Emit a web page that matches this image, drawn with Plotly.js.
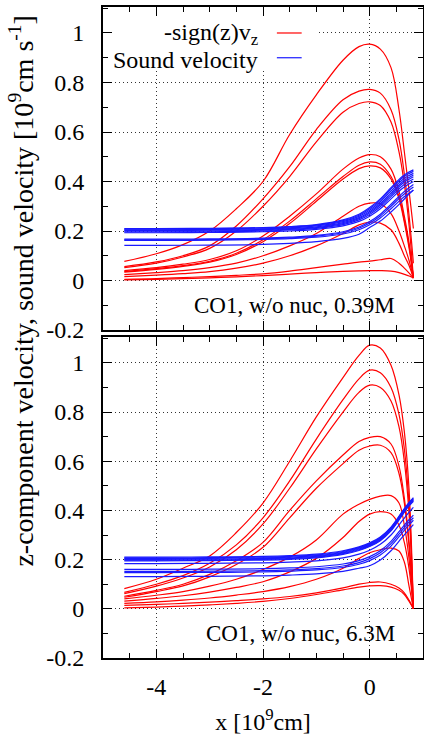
<!DOCTYPE html>
<html>
<head>
<meta charset="utf-8">
<script src="https://cdn.plot.ly/plotly-3.0.1.min.js"></script>
<style>html,body{margin:0;padding:0;background:#fff;}#chart{width:424px;height:735px;}</style>
</head>
<body>
<div id="chart"></div>
<script>
// x grids (10^9 cm)
const xRed = [-4.6, -4, -3.5, -3, -2.5, -2, -1.5, -1, -0.5, -0.2, 0, 0.2, 0.4, 0.55, 0.65, 0.74, 0.82];
const xBlue = [-4.6, -4, -3, -2, -1.5, -1, -0.5, -0.2, 0, 0.2, 0.4, 0.6, 0.72, 0.82];

// Top panel: CO1, w/o nuc, 0.39M  — -sign(z) v_z
const vzTop = [
  [0.077, 0.108, 0.145, 0.20, 0.29, 0.40, 0.59, 0.75, 0.89, 0.945, 0.955, 0.935, 0.86, 0.69, 0.52, 0.36, 0.21],
  [0.056, 0.075, 0.10, 0.14, 0.22, 0.33, 0.46, 0.61, 0.73, 0.765, 0.772, 0.757, 0.69, 0.57, 0.43, 0.26, 0.07],
  [0.052, 0.07, 0.095, 0.13, 0.20, 0.30, 0.42, 0.56, 0.68, 0.715, 0.722, 0.707, 0.64, 0.52, 0.39, 0.22, 0.01],
  [0.040, 0.052, 0.066, 0.085, 0.12, 0.18, 0.26, 0.35, 0.45, 0.495, 0.509, 0.50, 0.45, 0.36, 0.26, 0.15, 0.01],
  [0.036, 0.048, 0.060, 0.078, 0.11, 0.165, 0.24, 0.33, 0.42, 0.466, 0.479, 0.47, 0.42, 0.34, 0.245, 0.14, 0.01],
  [0.034, 0.045, 0.057, 0.074, 0.105, 0.157, 0.23, 0.32, 0.41, 0.452, 0.463, 0.455, 0.41, 0.33, 0.235, 0.13, 0.01],
  [0.024, 0.032, 0.040, 0.052, 0.07, 0.10, 0.14, 0.19, 0.26, 0.30, 0.313, 0.31, 0.27, 0.20, 0.14, 0.08, 0.01],
  [0.016, 0.022, 0.028, 0.036, 0.05, 0.07, 0.10, 0.14, 0.19, 0.225, 0.236, 0.232, 0.205, 0.15, 0.10, 0.06, 0.01],
  [0.005, 0.008, 0.012, 0.016, 0.021, 0.027, 0.038, 0.052, 0.066, 0.074, 0.078, 0.084, 0.089, 0.07, 0.05, 0.03, 0.01],
  [0.003, 0.005, 0.008, 0.011, 0.015, 0.02, 0.026, 0.032, 0.037, 0.039, 0.04, 0.04, 0.038, 0.032, 0.025, 0.018, 0.01]
];
// Top panel: sound velocity
const csTop = [
  [0.210,0.210,0.211,0.214,0.218,0.226,0.245,0.268,0.295,0.330,0.375,0.418,0.436,0.447],
  [0.208,0.208,0.209,0.212,0.216,0.224,0.242,0.264,0.290,0.325,0.370,0.412,0.430,0.441],
  [0.205,0.205,0.206,0.209,0.213,0.221,0.238,0.259,0.284,0.318,0.362,0.404,0.422,0.433],
  [0.202,0.202,0.203,0.206,0.210,0.217,0.234,0.254,0.278,0.311,0.354,0.396,0.414,0.426],
  [0.199,0.199,0.200,0.203,0.207,0.214,0.230,0.250,0.273,0.305,0.347,0.389,0.407,0.419],
  [0.196,0.196,0.197,0.200,0.204,0.211,0.226,0.245,0.267,0.298,0.339,0.380,0.398,0.410],
  [0.193,0.193,0.194,0.197,0.200,0.207,0.221,0.239,0.260,0.290,0.330,0.370,0.388,0.400],
  [0.167,0.167,0.168,0.171,0.175,0.182,0.197,0.216,0.238,0.268,0.308,0.350,0.372,0.388],
  [0.164,0.164,0.165,0.168,0.172,0.179,0.193,0.211,0.232,0.261,0.300,0.341,0.362,0.378],
  [0.162,0.162,0.163,0.166,0.169,0.175,0.188,0.205,0.225,0.253,0.290,0.330,0.350,0.366],
  [0.142,0.142,0.143,0.146,0.150,0.157,0.170,0.187,0.214,0.240,0.277,0.318,0.345,0.365]
];
// Bottom panel: CO1, w/o nuc, 6.3M — -sign(z) v_z
const vzBot = [
  [0.082, 0.12, 0.165, 0.215, 0.31, 0.43, 0.60, 0.78, 0.94, 1.03, 1.072, 1.06, 0.99, 0.87, 0.72, 0.48, 0.0],
  [0.067, 0.10, 0.135, 0.185, 0.26, 0.37, 0.52, 0.69, 0.85, 0.935, 0.97, 0.96, 0.90, 0.79, 0.65, 0.42, 0.0],
  [0.062, 0.092, 0.125, 0.17, 0.24, 0.345, 0.49, 0.65, 0.80, 0.88, 0.909, 0.90, 0.845, 0.74, 0.60, 0.38, 0.0],
  [0.051, 0.075, 0.10, 0.14, 0.195, 0.27, 0.40, 0.52, 0.625, 0.68, 0.697, 0.70, 0.67, 0.58, 0.45, 0.27, 0.0],
  [0.047, 0.07, 0.093, 0.13, 0.18, 0.25, 0.37, 0.49, 0.59, 0.645, 0.662, 0.665, 0.635, 0.55, 0.43, 0.25, 0.0],
  [0.04, 0.055, 0.07, 0.092, 0.12, 0.16, 0.21, 0.28, 0.385, 0.425, 0.445, 0.458, 0.46, 0.43, 0.34, 0.20, 0.0],
  [0.031, 0.042, 0.053, 0.068, 0.087, 0.11, 0.15, 0.205, 0.29, 0.355, 0.385, 0.395, 0.385, 0.34, 0.27, 0.16, 0.0],
  [0.022, 0.028, 0.035, 0.044, 0.056, 0.07, 0.09, 0.12, 0.165, 0.205, 0.228, 0.24, 0.247, 0.235, 0.19, 0.09, 0.0],
  [0.014, 0.018, 0.022, 0.027, 0.033, 0.04, 0.05, 0.065, 0.085, 0.10, 0.107, 0.109, 0.10, 0.085, 0.065, 0.035, 0.0],
  [0.004, 0.007, 0.011, 0.016, 0.022, 0.03, 0.042, 0.058, 0.077, 0.088, 0.093, 0.094, 0.088, 0.075, 0.058, 0.03, 0.0]
];
// Bottom panel: sound velocity
const csBot = [
  [0.210,0.210,0.211,0.213,0.216,0.222,0.236,0.252,0.268,0.292,0.332,0.392,0.428,0.452],
  [0.207,0.207,0.208,0.210,0.213,0.219,0.233,0.249,0.265,0.289,0.329,0.389,0.425,0.449],
  [0.204,0.204,0.205,0.207,0.210,0.216,0.230,0.246,0.262,0.286,0.326,0.386,0.422,0.446],
  [0.201,0.201,0.202,0.204,0.207,0.213,0.227,0.243,0.259,0.283,0.323,0.383,0.419,0.443],
  [0.198,0.198,0.199,0.201,0.204,0.210,0.224,0.240,0.256,0.280,0.320,0.380,0.416,0.440],
  [0.195,0.195,0.196,0.198,0.201,0.207,0.221,0.237,0.253,0.277,0.317,0.377,0.413,0.437],
  [0.184,0.184,0.185,0.187,0.190,0.195,0.207,0.222,0.238,0.262,0.300,0.355,0.388,0.412],
  [0.160,0.160,0.161,0.163,0.166,0.171,0.182,0.196,0.212,0.236,0.274,0.327,0.358,0.381],
  [0.152,0.152,0.153,0.155,0.158,0.163,0.174,0.188,0.204,0.228,0.265,0.317,0.348,0.370],
  [0.147,0.147,0.148,0.150,0.153,0.158,0.168,0.181,0.196,0.219,0.255,0.306,0.337,0.360],
  [0.131,0.131,0.132,0.134,0.137,0.142,0.152,0.165,0.175,0.198,0.236,0.288,0.318,0.342]
];

const yTickVals = [-0.2, 0, 0.2, 0.4, 0.6, 0.8, 1];
const yTickText = ['-0.2', '0', '0.2', '0.4', '0.6', '0.8', '1'];
const xTickVals = [-4, -2, 0];
const xTickText = ['-4', '-2', '0'];
const panelLabels = ['CO1, w/o nuc, 0.39M', 'CO1, w/o nuc, 6.3M'];
const legendLabels = ['-sign(z)v<sub>z</sub>', 'Sound velocity'];
const yTitle = 'z-component velocity, sound velocity [10<sup>9</sup>cm s<sup>-1</sup>]';
const xTitle = 'x [10<sup>9</sup>cm]';

const RED = '#ff0000', BLUE = '#1a1aff';
const FONT = 'Times New Roman';

const traces = [];
function addSet(xs, sets, color, xa, ya) {
  sets.forEach(ys => traces.push({
    x: xs, y: ys, type: 'scatter', mode: 'lines', xaxis: xa, yaxis: ya,
    line: {color: color, width: 1.2, shape: 'spline', smoothing: 1},
    showlegend: false, hoverinfo: 'skip'
  }));
}
addSet(xRed, vzTop, RED, 'x2', 'y2');
addSet(xBlue, csTop, BLUE, 'x2', 'y2');
addSet(xRed, vzBot, RED, 'x', 'y');
addSet(xBlue, csBot, BLUE, 'x', 'y');

function yAx(domain) {
  return {
    domain: domain, range: [-0.2, 1.105], tickmode: 'array', tickvals: yTickVals, ticktext: yTickText,
    ticks: 'inside', ticklen: 9, tickwidth: 1, tickcolor: '#000', mirror: 'allticks',
    showline: true, linecolor: '#000', linewidth: 2, zeroline: false,
    showgrid: true, gridcolor: '#333', gridwidth: 1, griddash: '1px,3px',
    minor: {dtick: 0.1, tick0: 0, ticks: 'inside', ticklen: 5, tickcolor: '#000', tickwidth: 1, showgrid: false},
    tickfont: {family: FONT, size: 24, color: '#000'}, ticklabelstandoff: 12, fixedrange: true
  };
}
function xAx(showLabels, anchor) {
  return {
    anchor: anchor, domain: [0, 1], range: [-5, 1], tickmode: 'array', tickvals: xTickVals, ticktext: xTickText,
    ticks: 'inside', ticklen: 9, tickwidth: 1, tickcolor: '#000', mirror: 'allticks',
    showline: true, linecolor: '#000', linewidth: 2, zeroline: false,
    showgrid: true, gridcolor: '#333', gridwidth: 1, griddash: '1px,3px',
    minor: {dtick: 0.5, tick0: 0, ticks: 'inside', ticklen: 5, tickcolor: '#000', tickwidth: 1, showgrid: false},
    showticklabels: showLabels, tickfont: {family: FONT, size: 24, color: '#000'}, ticklabelstandoff: 6, fixedrange: true
  };
}

const xa = xAx(true, 'y');
xa.title = {text: xTitle, font: {family: FONT, size: 24, color: '#000'}, standoff: 22};
const xa2 = xAx(false, 'y2');
xa2.matches = 'x';

const layout = {
  width: 424, height: 735,
  margin: {l: 103, r: 1, t: 7, b: 77},
  paper_bgcolor: '#fff', plot_bgcolor: '#fff',
  font: {family: FONT, color: '#000'},
  showlegend: false,
  xaxis: xa, xaxis2: xa2,
  yaxis: yAx([0, 0.4931]),
  yaxis2: yAx([0.5038, 1]),
  shapes: [
    {type: 'rect', xref: 'x2', yref: 'y2', x0: -5, x1: -0.99, y0: 0.85, y1: 1.105,
     fillcolor: '#fff', line: {width: 0}, layer: 'between'},
    {type: 'line', xref: 'x2', yref: 'y2', x0: -1.74, x1: -1.275, y0: 1.0, y1: 1.0,
     line: {color: RED, width: 1.2}},
    {type: 'line', xref: 'x2', yref: 'y2', x0: -1.74, x1: -1.275, y0: 0.9, y1: 0.9,
     line: {color: BLUE, width: 1.2}}
  ],
  annotations: [
    {xref: 'x2', yref: 'y2', x: -2.06, y: 1.0, xanchor: 'right', yanchor: 'middle', yshift: -1,
     text: legendLabels[0], showarrow: false, font: {family: FONT, size: 24, color: '#000'}},
    {xref: 'x2', yref: 'y2', x: -2.06, y: 0.9, xanchor: 'right', yanchor: 'middle', yshift: -2,
     text: legendLabels[1], showarrow: false, font: {family: FONT, size: 24, color: '#000'}},
    {xref: 'x2', yref: 'y2', x: 0.506, y: -0.1, xanchor: 'right', yanchor: 'middle',
     text: panelLabels[0], showarrow: false, font: {family: FONT, size: 23, color: '#000'}},
    {xref: 'x', yref: 'y', x: 0.506, y: -0.1, xanchor: 'right', yanchor: 'middle',
     text: panelLabels[1], showarrow: false, font: {family: FONT, size: 23, color: '#000'}},
    {xref: 'paper', yref: 'paper', x: -0.255, y: 0.565, xanchor: 'center', yanchor: 'middle',
     textangle: -90, text: yTitle, showarrow: false, font: {family: FONT, size: 28, color: '#000'}}
  ]
};

Plotly.newPlot('chart', traces, layout, {staticPlot: true, displayModeBar: false});
</script>
</body>
</html>
